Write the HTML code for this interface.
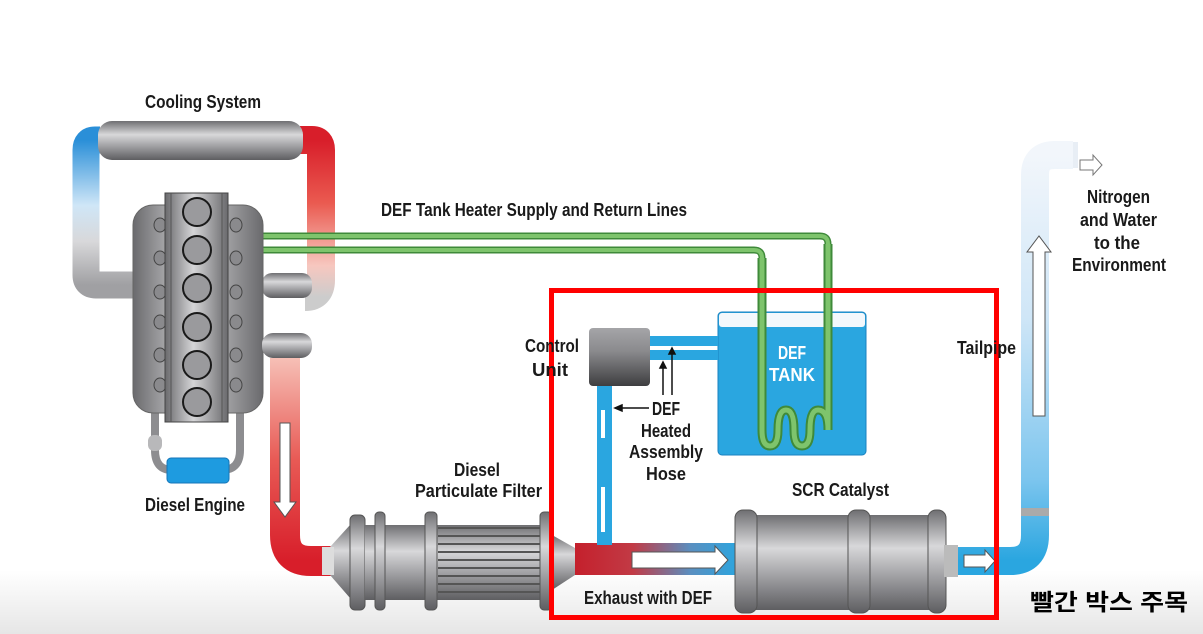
<!DOCTYPE html>
<html><head><meta charset="utf-8">
<style>
html,body{margin:0;padding:0;background:#fff;}
svg{display:block;}
.t{font-family:"Liberation Sans",sans-serif;font-weight:bold;font-size:18px;fill:#1a1a1a;}
</style></head>
<body>
<svg width="1203" height="634" viewBox="0 0 1203 634" xmlns="http://www.w3.org/2000/svg">
<defs>
<linearGradient id="bg" x1="0" y1="0" x2="0" y2="1">
<stop offset="0" stop-color="#ffffff"/><stop offset="0.9" stop-color="#ffffff"/><stop offset="1" stop-color="#e6e6e6"/>
</linearGradient>
<linearGradient id="gv" x1="0" y1="0" x2="0" y2="1">
<stop offset="0" stop-color="#6f6f72"/><stop offset="0.35" stop-color="#d8d8da"/><stop offset="0.6" stop-color="#a9a9ac"/><stop offset="1" stop-color="#5e5e61"/>
</linearGradient>
<linearGradient id="gh" x1="0" y1="0" x2="1" y2="0">
<stop offset="0" stop-color="#6a6a6d"/><stop offset="0.45" stop-color="#d5d5d7"/><stop offset="1" stop-color="#6a6a6d"/>
</linearGradient>
<linearGradient id="leftpipe" x1="0" y1="0" x2="0" y2="1">
<stop offset="0" stop-color="#2a8fd8"/><stop offset="0.45" stop-color="#cfe6f7"/><stop offset="0.7" stop-color="#d8d8da"/><stop offset="1" stop-color="#a0a0a3"/>
</linearGradient>
<linearGradient id="rightpipe" x1="0" y1="0" x2="0" y2="1">
<stop offset="0" stop-color="#d81e2a"/><stop offset="0.4" stop-color="#ea5a50"/><stop offset="0.8" stop-color="#f7c7bf"/><stop offset="1" stop-color="#ccc"/>
</linearGradient>
<linearGradient id="exred" x1="0" y1="0" x2="0" y2="1">
<stop offset="0" stop-color="#f6c0b6"/><stop offset="0.5" stop-color="#e85a55"/><stop offset="1" stop-color="#d81e2a"/>
</linearGradient>
<linearGradient id="mix" x1="0" y1="0" x2="1" y2="0">
<stop offset="0" stop-color="#c4202c"/><stop offset="0.35" stop-color="#c23a45"/><stop offset="0.7" stop-color="#5a8fc0"/><stop offset="1" stop-color="#2aa6e0"/>
</linearGradient>
<linearGradient id="tail" x1="0" y1="0" x2="0" y2="1">
<stop offset="0" stop-color="#f2f6fb"/><stop offset="0.4" stop-color="#cfe6f7"/><stop offset="0.8" stop-color="#7cc5ee"/><stop offset="1" stop-color="#2aa6e0"/>
</linearGradient>
<linearGradient id="cu" x1="0" y1="0" x2="0" y2="1">
<stop offset="0" stop-color="#a5a5a8"/><stop offset="0.4" stop-color="#8a8a8d"/><stop offset="1" stop-color="#3e3e40"/>
</linearGradient>
</defs>
<rect width="1203" height="634" fill="url(#bg)"/>

<!-- Cooling loop -->
<path d="M100,140 L95,140 Q86,140 86,150 L86,275 Q86,285 96,285 L140,285" fill="none" stroke="url(#leftpipe)" stroke-width="27"/>
<path d="M300,140 L312,140 Q321,140 321,150 L321,280 Q321,297 305,297" fill="none" stroke="url(#rightpipe)" stroke-width="28"/>
<rect x="262" y="273" width="50" height="25" rx="10" fill="url(#gv)"/>
<rect x="98" y="121" width="205" height="39" rx="14" fill="url(#gv)"/>

<!-- green heater lines -->
<path d="M262,236 L820,236 Q828,236 828,244 L828,440" fill="none" stroke="#3f8a3a" stroke-width="7"/>
<path d="M262,236 L820,236 Q828,236 828,244 L828,440" fill="none" stroke="#7ec46c" stroke-width="4"/>
<path d="M262,250 L754,250 Q762,250 762,258 L762,440" fill="none" stroke="#3f8a3a" stroke-width="7"/>
<path d="M262,250 L754,250 Q762,250 762,258 L762,440" fill="none" stroke="#7ec46c" stroke-width="4"/>

<!-- engine -->
<path d="M155,410 L155,450 Q155,470 172,470 M240,410 L240,450 Q240,470 222,470" fill="none" stroke="#8d8d90" stroke-width="8"/>
<rect x="148" y="435" width="14" height="16" rx="6" fill="#b8b8ba"/>
<rect x="167" y="458" width="62" height="25" rx="4" fill="#1e9be0" stroke="#1576b8"/>
<rect x="133" y="205" width="130" height="208" rx="20" fill="url(#gh)" stroke="#666" stroke-width="1"/>
<g fill="#8a8a8d" stroke="#444">
<ellipse cx="160" cy="225" rx="6" ry="7"/><ellipse cx="160" cy="258" rx="6" ry="7"/><ellipse cx="160" cy="292" rx="6" ry="7"/><ellipse cx="160" cy="322" rx="6" ry="7"/><ellipse cx="160" cy="355" rx="6" ry="7"/><ellipse cx="160" cy="385" rx="6" ry="7"/>
<ellipse cx="236" cy="225" rx="6" ry="7"/><ellipse cx="236" cy="258" rx="6" ry="7"/><ellipse cx="236" cy="292" rx="6" ry="7"/><ellipse cx="236" cy="322" rx="6" ry="7"/><ellipse cx="236" cy="355" rx="6" ry="7"/><ellipse cx="236" cy="385" rx="6" ry="7"/>
</g>
<rect x="165" y="193" width="63" height="229" fill="url(#gh)" stroke="#444"/>
<line x1="171" y1="193" x2="171" y2="422" stroke="#555"/><line x1="222" y1="193" x2="222" y2="422" stroke="#555"/>
<g fill="#9a9a9d" stroke="#1a1a1a" stroke-width="2">
<circle cx="197" cy="212" r="14"/><circle cx="197" cy="250" r="14"/><circle cx="197" cy="288" r="14"/><circle cx="197" cy="327" r="14"/><circle cx="197" cy="365" r="14"/><circle cx="197" cy="402" r="14"/>
</g>
<!-- exhaust -->
<rect x="262" y="333" width="50" height="25" rx="11" fill="url(#gv)"/>
<path d="M285,358 L285,535 Q285,561 311,561 L335,561" fill="none" stroke="url(#exred)" stroke-width="30"/>
<path d="M280,423 L290,423 L290,502 L296,502 L285,517 L274,502 L280,502 Z" fill="#fff" stroke="#555"/>

<!-- DPF -->
<path d="M330,547 L350,525 L350,598 L330,575 Z" fill="url(#gv)"/>
<rect x="322" y="547" width="12" height="28" fill="#ddd"/>
<rect x="350" y="515" width="15" height="95" rx="5" fill="url(#gv)" stroke="#555"/>
<rect x="365" y="525" width="180" height="75" fill="url(#gv)"/>
<rect x="375" y="512" width="10" height="98" rx="4" fill="url(#gv)" stroke="#555"/>
<rect x="425" y="512" width="12" height="98" rx="4" fill="url(#gv)" stroke="#555"/>
<g stroke="#555" stroke-width="2">
<line x1="438" y1="528" x2="540" y2="528"/><line x1="438" y1="536" x2="540" y2="536"/><line x1="438" y1="544" x2="540" y2="544"/><line x1="438" y1="552" x2="540" y2="552"/><line x1="438" y1="560" x2="540" y2="560"/><line x1="438" y1="568" x2="540" y2="568"/><line x1="438" y1="576" x2="540" y2="576"/><line x1="438" y1="584" x2="540" y2="584"/><line x1="438" y1="592" x2="540" y2="592"/>
</g>
<rect x="540" y="512" width="12" height="98" rx="4" fill="url(#gv)" stroke="#555"/>
<path d="M552,535 L575,548 L575,575 L552,590 Z" fill="url(#gv)"/>

<!-- exhaust with DEF -->
<rect x="575" y="543" width="165" height="32" fill="url(#mix)"/>
<path d="M632,552 L715,552 L715,546 L728,560 L715,574 L715,568 L632,568 Z" fill="#fff" stroke="#555"/>
<!-- SCR -->
<rect x="738" y="540" width="20" height="38" fill="#bbb"/>
<rect x="752" y="515" width="190" height="95" rx="4" fill="url(#gv)"/>
<rect x="735" y="510" width="22" height="103" rx="8" fill="url(#gv)" stroke="#555"/>
<rect x="848" y="510" width="22" height="103" rx="8" fill="url(#gv)" stroke="#555"/>
<rect x="928" y="510" width="18" height="103" rx="8" fill="url(#gv)" stroke="#555"/>
<rect x="944" y="545" width="14" height="32" fill="#bbb"/>
<!-- tailpipe -->
<path d="M958,561 L1010,561 Q1035,561 1035,535 L1035,175 Q1035,155 1055,155 L1073,155" fill="none" stroke="url(#tail)" stroke-width="28"/>
<path d="M1073,142 L1078,142 L1078,168 L1073,168 Z" fill="#e8eef5"/>
<rect x="1021" y="508" width="28" height="8" fill="#aaa"/>
<path d="M1033,416 L1033,252 L1027,252 L1039,236 L1051,252 L1045,252 L1045,416 Z" fill="#fff" stroke="#555"/>
<path d="M964,555 L985,555 L985,550 L995,561 L985,572 L985,567 L964,567 Z" fill="#fff" stroke="#555"/>
<path d="M1080,160 L1093,160 L1093,155 L1102,165 L1093,175 L1093,170 L1080,170 Z" fill="#fff" stroke="#777"/>

<!-- DEF tank -->
<rect x="718" y="312" width="148" height="143" rx="4" fill="#2aa6e0" stroke="#1a82c0"/>
<rect x="719" y="313" width="146" height="14" rx="3" fill="#f3f8fc"/>
<path d="M762,258 L762,430 Q762,446 770,446 Q778,446 778,430 Q778,410 786,410 Q794,410 794,430 Q794,446 802,446 Q810,446 810,430 Q810,410 818,410 Q828,410 828,430 L828,244" fill="none" stroke="#3f8a3a" stroke-width="9"/>
<path d="M762,258 L762,430 Q762,446 770,446 Q778,446 778,430 Q778,410 786,410 Q794,410 794,430 Q794,446 802,446 Q810,446 810,430 Q810,410 818,410 Q828,410 828,430 L828,244" fill="none" stroke="#7ec46c" stroke-width="5"/>
<text x="778" y="359" textLength="28" lengthAdjust="spacingAndGlyphs" class="t" style="fill:#fff">DEF</text>
<text x="769" y="381" textLength="46" lengthAdjust="spacingAndGlyphs" class="t" style="fill:#fff">TANK</text>

<!-- control unit & hoses -->
<rect x="650" y="336" width="68" height="10" fill="#2aa6e0"/>
<rect x="650" y="350" width="68" height="10" fill="#2aa6e0"/>
<rect x="597" y="385" width="15" height="160" fill="#2aa6e0"/>
<rect x="601" y="410" width="4" height="28" fill="#fff"/><rect x="601" y="487" width="4" height="45" fill="#fff"/>
<rect x="589" y="328" width="61" height="58" rx="4" fill="url(#cu)"/>
<g stroke="#111" stroke-width="1.5" fill="#111">
<line x1="663" y1="395" x2="663" y2="366"/><path d="M660,368 L663,362 L666,368 Z"/>
<line x1="672" y1="395" x2="672" y2="352"/><path d="M669,354 L672,348 L675,354 Z"/>
<line x1="649" y1="408" x2="620" y2="408"/><path d="M622,405 L615,408 L622,411 Z"/>
</g>

<!-- red box -->
<rect x="551.5" y="290.5" width="445" height="327" fill="none" stroke="#ff0000" stroke-width="5"/>

<!-- labels -->
<g class="t">
<text x="145" y="108" textLength="116" lengthAdjust="spacingAndGlyphs">Cooling System</text>
<text x="381" y="216" textLength="306" lengthAdjust="spacingAndGlyphs">DEF Tank Heater Supply and Return Lines</text>
<text x="525" y="352" textLength="54" lengthAdjust="spacingAndGlyphs">Control</text>
<text x="532" y="376" textLength="36" lengthAdjust="spacingAndGlyphs">Unit</text>
<text x="652" y="415" textLength="28" lengthAdjust="spacingAndGlyphs">DEF</text>
<text x="641" y="437" textLength="50" lengthAdjust="spacingAndGlyphs">Heated</text>
<text x="629" y="458" textLength="74" lengthAdjust="spacingAndGlyphs">Assembly</text>
<text x="646" y="480" textLength="40" lengthAdjust="spacingAndGlyphs">Hose</text>
<text x="454" y="476" textLength="46" lengthAdjust="spacingAndGlyphs">Diesel</text>
<text x="415" y="497" textLength="127" lengthAdjust="spacingAndGlyphs">Particulate Filter</text>
<text x="792" y="496" textLength="97" lengthAdjust="spacingAndGlyphs">SCR Catalyst</text>
<text x="584" y="604" textLength="128" lengthAdjust="spacingAndGlyphs">Exhaust with DEF</text>
<text x="145" y="511" textLength="100" lengthAdjust="spacingAndGlyphs">Diesel Engine</text>
<text x="957" y="354" textLength="59" lengthAdjust="spacingAndGlyphs">Tailpipe</text>
<text x="1087" y="203" textLength="63" lengthAdjust="spacingAndGlyphs">Nitrogen</text>
<text x="1080" y="226" textLength="77" lengthAdjust="spacingAndGlyphs">and Water</text>
<text x="1094" y="249" textLength="46" lengthAdjust="spacingAndGlyphs">to the</text>
<text x="1072" y="271" textLength="94" lengthAdjust="spacingAndGlyphs">Environment</text>
</g>
<text x="1030" y="610" textLength="158" lengthAdjust="spacingAndGlyphs" style="font-family:'Liberation Sans','Noto Sans CJK KR',sans-serif;font-weight:bold;font-size:23px;fill:#000">빨간 박스 주목</text>
</svg>
</body></html>
